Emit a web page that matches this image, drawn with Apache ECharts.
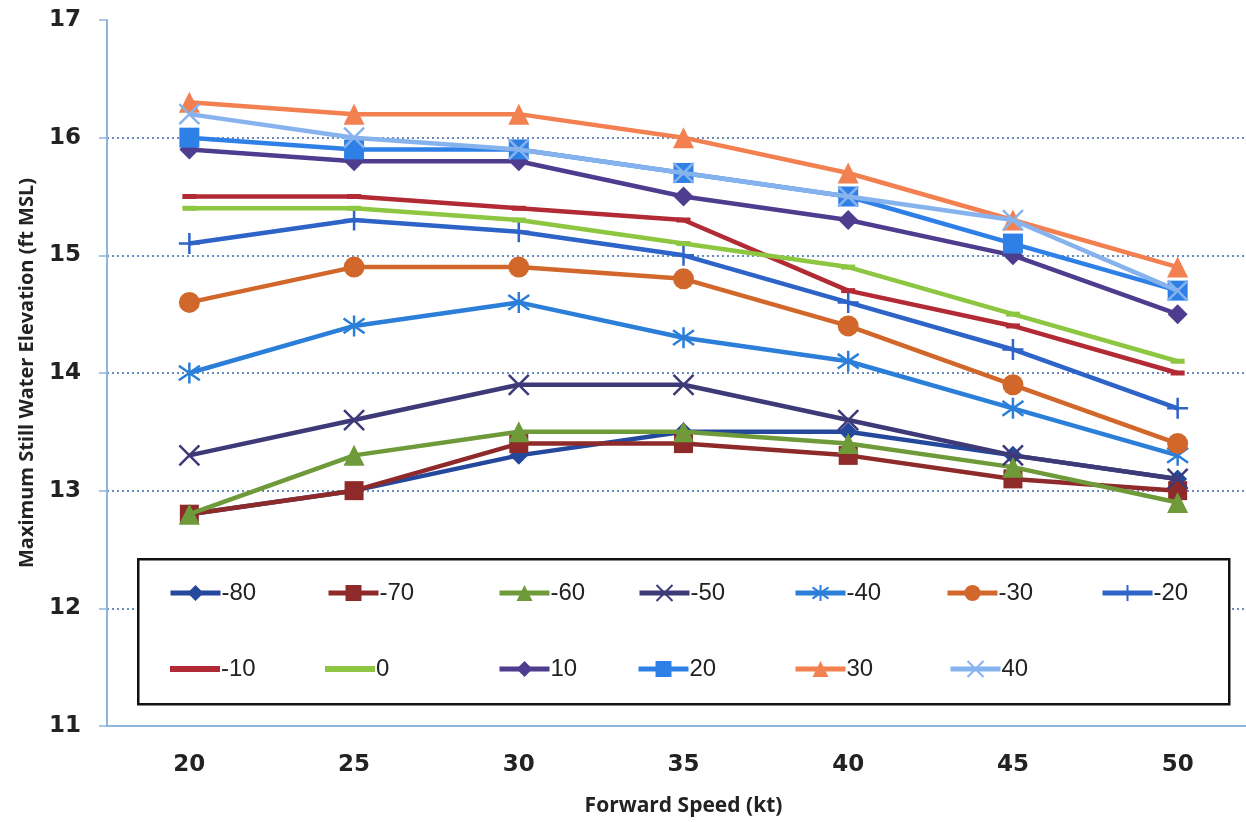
<!DOCTYPE html>
<html>
<head>
<meta charset="utf-8">
<script src="https://cdn.jsdelivr.net/npm/echarts@6/dist/echarts.min.js"></script>
<style>
html,body{margin:0;padding:0;background:#fff;}
#chart{width:1246px;height:822px;}
</style>
</head>
<body>
<div id="chart"></div>
<script>
// ---- data ----
const speeds = ['20', '25', '30', '35', '40', '45', '50'];
const seriesNames = ['-80', '-70', '-60', '-50', '-40', '-30', '-20', '-10', '0', '10', '20', '30', '40'];
const s_m80 = [12.8, 13.0, 13.3, 13.5, 13.5, 13.3, 13.1];
const s_m70 = [12.8, 13.0, 13.4, 13.4, 13.3, 13.1, 13.0];
const s_m60 = [12.8, 13.3, 13.5, 13.5, 13.4, 13.2, 12.9];
const s_m50 = [13.3, 13.6, 13.9, 13.9, 13.6, 13.3, 13.1];
const s_m40 = [14.0, 14.4, 14.6, 14.3, 14.1, 13.7, 13.3];
const s_m30 = [14.6, 14.9, 14.9, 14.8, 14.4, 13.9, 13.4];
const s_m20 = [15.1, 15.3, 15.2, 15.0, 14.6, 14.2, 13.7];
const s_m10 = [15.5, 15.5, 15.4, 15.3, 14.7, 14.4, 14.0];
const s_0   = [15.4, 15.4, 15.3, 15.1, 14.9, 14.5, 14.1];
const s_10  = [15.9, 15.8, 15.8, 15.5, 15.3, 15.0, 14.5];
const s_20  = [16.0, 15.9, 15.9, 15.7, 15.5, 15.1, 14.7];
const s_30  = [16.3, 16.2, 16.2, 16.0, 15.7, 15.3, 14.9];
const s_40  = [16.2, 16.0, 15.9, 15.7, 15.5, 15.3, 14.7];
const allValues = [s_m80, s_m70, s_m60, s_m50, s_m40, s_m30, s_m20, s_m10, s_0, s_10, s_20, s_30, s_40];
const yTicks = [11, 17, 1]; // min, max, interval

// ---- styles ----
const colors = ['#24499C', '#8E2A2A', '#6E9A3A', '#3E3A78', '#2C7FD8', '#D2672B', '#2E63C8',
                '#B22A33', '#8DC641', '#4E3D8E', '#2F80E6', '#F28050', '#86B3EE'];
const X_PATH = 'path://M0 0L10 10M10 0L0 10';
const AST_PATH = 'path://M5 0L5 10M0.8 1.5L9.2 8.5M9.2 1.5L0.8 8.5';
const PLUS_PATH = 'path://M5 0L5 10M0 5L10 5';
const symbols = [
  ['diamond', 19, false], ['rect', 19, false], ['triangle', 21, false], [X_PATH, 20, true],
  [AST_PATH, 21, true], ['circle', 21, false], [PLUS_PATH, 21, true], ['rect', [14, 5], false],
  ['rect', [14, 5], false], ['diamond', 20, false], ['rect', 20, false], ['triangle', 21, false], [X_PATH, 20, true]
];
const legendLeft = [168, 326, 497, 637, 793, 945, 1100, 170, 325, 497, 636, 793, 948];
const legendTop = [581, 581, 581, 581, 581, 581, 581, 657, 657, 657, 657, 657, 657];

const series = seriesNames.map((n, i) => {
  const [sym, size, stroke] = symbols[i];
  return {
    name: n, type: 'line', data: allValues[i],
    symbol: sym, symbolSize: size, showSymbol: true,
    lineStyle: { color: colors[i], width: 4.5 },
    itemStyle: stroke ? { color: colors[i], borderColor: colors[i], borderWidth: 2.5 }
                      : { color: colors[i], borderWidth: 0 },
    emphasis: { disabled: true },
    z: 2 + i * 0.01
  };
});

const legends = seriesNames.map((n, i) => {
  const dashOnly = (i === 7 || i === 8);
  return {
    data: [dashOnly ? { name: n, icon: 'rect' } : n],
    left: legendLeft[i], top: legendTop[i], orient: 'horizontal',
    itemWidth: 50, itemHeight: dashOnly ? 6 : 20, itemGap: 0, padding: 0,
    lineStyle: { width: 5 },
    textStyle: { fontFamily: 'Liberation Sans Narrow, Arial Narrow, sans-serif', fontSize: 24, color: '#222', padding: [0, 0, 0, -4] },
    selectedMode: false, z: 10
  };
});

const chart = echarts.init(document.getElementById('chart'), null, { renderer: 'canvas' });
chart.setOption({
  animation: false,
  backgroundColor: '#ffffff',
  grid: { left: 107, top: 20, width: 1153, height: 706, outerBoundsMode: 'none', containLabel: false },
  xAxis: {
    type: 'category', data: speeds, boundaryGap: true,
    axisLine: { lineStyle: { color: '#8DB6DE', width: 2 } },
    axisTick: { show: false },
    axisLabel: { margin: 28, fontFamily: 'DejaVu Sans', fontWeight: 'bold', fontSize: 23, color: '#222' },
    splitLine: { show: false },
    name: 'Forward Speed (kt)', nameLocation: 'middle', nameGap: 70,
    nameTextStyle: { fontFamily: 'Open Sans', fontWeight: 'bold', fontSize: 21, color: '#222' }
  },
  yAxis: {
    type: 'value', min: yTicks[0], max: yTicks[1], interval: yTicks[2],
    axisLine: { show: true, lineStyle: { color: '#8DB6DE', width: 2 } },
    axisTick: { show: true, length: 8, lineStyle: { color: '#8DB6DE', width: 1.5 } },
    axisLabel: { margin: 26, fontFamily: 'DejaVu Sans', fontWeight: 'bold', fontSize: 23, color: '#222' },
    splitLine: { show: true, showMinLine: false, showMaxLine: false, lineStyle: { type: [2, 3], color: '#3A64A8', width: 1.5 } },
    name: 'Maximum Still Water Elevation (ft MSL)', nameLocation: 'middle', nameGap: 70,
    nameTextStyle: { fontFamily: 'Open Sans', fontWeight: 'bold', fontSize: 20, color: '#222' }
  },
  legend: legends,
  graphic: [{
    type: 'rect', left: 137, top: 558, z: 5,
    shape: { width: 1091, height: 145 },
    style: { fill: '#ffffff', stroke: '#111111', lineWidth: 2.5 }
  }],
  series: series
});
</script>
</body>
</html>
